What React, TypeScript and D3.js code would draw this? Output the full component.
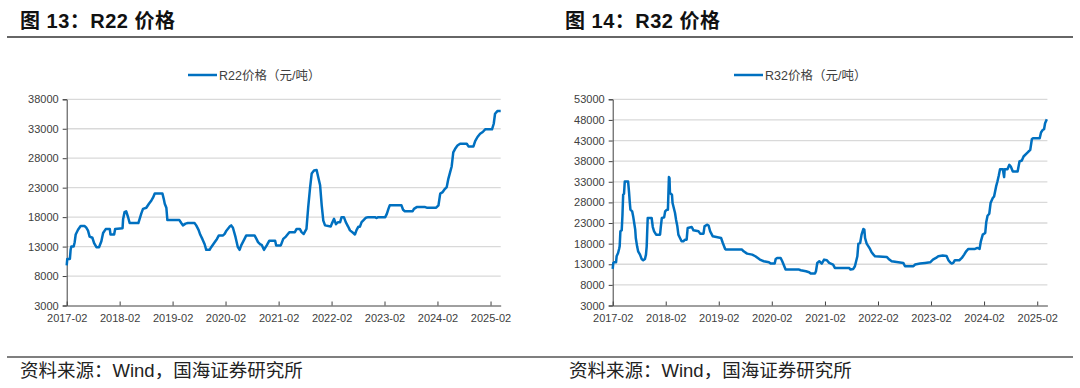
import React, { useEffect, useRef } from "react";
import * as d3 from "d3";

// R22 price (yuan/ton), change points
const r22Prices: [string, number][] = [
  ["2017-02-01", 9800], ["2017-02-05", 10900], ["2017-02-23", 10900], ["2017-02-28", 12450],
  ["2017-03-05", 13000], ["2017-03-21", 13000], ["2017-03-28", 13750], ["2017-04-04", 15050],
  ["2017-04-20", 15850], ["2017-05-08", 16480], ["2017-06-05", 16480], ["2017-06-16", 16200],
  ["2017-06-28", 15700], ["2017-07-09", 14700], ["2017-07-28", 14500], ["2017-08-09", 13600],
  ["2017-08-25", 12900], ["2017-09-12", 12900], ["2017-09-28", 13900], ["2017-10-10", 15300],
  ["2017-10-28", 15970], ["2017-11-25", 16000], ["2017-11-30", 15050], ["2017-12-25", 15050],
  ["2018-01-01", 16000], ["2018-02-21", 16130], ["2018-02-25", 17700], ["2018-03-07", 18850],
  ["2018-03-18", 19000], ["2018-03-30", 18100], ["2018-04-11", 17000], ["2018-06-10", 17000],
  ["2018-06-19", 17700], ["2018-06-30", 18600], ["2018-07-12", 19400], ["2018-08-04", 19600],
  ["2018-08-22", 20270], ["2018-09-08", 20840], ["2018-09-19", 21300], ["2018-10-01", 22000],
  ["2018-11-23", 22000], ["2018-12-02", 21100], ["2018-12-09", 20270], ["2018-12-20", 19600],
  ["2018-12-27", 17500], ["2019-03-20", 17500], ["2019-04-02", 17000], ["2019-04-13", 16600],
  ["2019-05-01", 16900], ["2019-05-17", 17000], ["2019-07-02", 17000], ["2019-07-14", 16600],
  ["2019-07-30", 15850], ["2019-08-11", 15000], ["2019-08-25", 14300], ["2019-09-10", 13400],
  ["2019-09-21", 12450], ["2019-10-14", 12450], ["2019-10-25", 12900], ["2019-11-18", 13750],
  ["2019-12-04", 14300], ["2019-12-17", 14900], ["2020-01-15", 14900], ["2020-01-26", 15150],
  ["2020-02-07", 15700], ["2020-03-01", 16400], ["2020-03-11", 16600], ["2020-03-23", 16200],
  ["2020-04-10", 14600], ["2020-04-26", 12900], ["2020-05-08", 12450], ["2020-05-19", 13200],
  ["2020-06-11", 14300], ["2020-06-23", 14900], ["2020-08-19", 14900], ["2020-09-01", 14300],
  ["2020-09-12", 13750], ["2020-09-26", 13400], ["2020-10-07", 13300], ["2020-10-23", 12450],
  ["2020-11-11", 13200], ["2020-11-29", 14000], ["2021-01-08", 14000], ["2021-01-15", 13200],
  ["2021-02-16", 13200], ["2021-03-05", 14300], ["2021-03-23", 14700], ["2021-04-16", 15450],
  ["2021-05-24", 15450], ["2021-06-05", 16000], ["2021-06-27", 16000], ["2021-07-09", 15450],
  ["2021-07-24", 15150], ["2021-08-12", 16000], ["2021-08-24", 19700], ["2021-09-06", 23050],
  ["2021-09-17", 25400], ["2021-10-03", 25900], ["2021-10-21", 26000], ["2021-11-02", 24700],
  ["2021-11-14", 23400], ["2021-11-25", 20000], ["2021-12-06", 17400], ["2021-12-18", 16600],
  ["2022-01-26", 16400], ["2022-02-03", 16900], ["2022-02-18", 17700], ["2022-03-03", 16800],
  ["2022-03-18", 17150], ["2022-04-01", 17150], ["2022-04-11", 18000], ["2022-04-27", 18000],
  ["2022-05-10", 17150], ["2022-05-26", 16400], ["2022-06-08", 15750], ["2022-07-01", 15300],
  ["2022-07-12", 15050], ["2022-07-23", 15800], ["2022-08-04", 16350], ["2022-08-15", 16350],
  ["2022-08-27", 17150], ["2022-09-08", 17450], ["2022-09-26", 17900], ["2022-10-12", 18000],
  ["2022-11-27", 18000], ["2022-12-09", 17850], ["2022-12-20", 18000], ["2023-02-06", 18000],
  ["2023-02-17", 18550], ["2023-02-28", 19400], ["2023-03-09", 20000], ["2023-05-29", 20000],
  ["2023-06-09", 19250], ["2023-06-21", 19000], ["2023-08-14", 19000], ["2023-08-23", 19400],
  ["2023-09-11", 19700], ["2023-11-08", 19700], ["2023-11-19", 19600], ["2024-01-23", 19600],
  ["2024-02-08", 20000], ["2024-02-20", 22000], ["2024-03-08", 22250], ["2024-03-24", 22800],
  ["2024-04-05", 23100], ["2024-04-16", 24500], ["2024-04-28", 25600], ["2024-05-09", 26600],
  ["2024-05-20", 29000], ["2024-06-02", 29600], ["2024-06-18", 30150], ["2024-07-06", 30450],
  ["2024-08-21", 30450], ["2024-09-02", 30000], ["2024-10-06", 30000], ["2024-10-18", 30900],
  ["2024-11-03", 31600], ["2024-11-21", 32150], ["2024-12-09", 32450], ["2024-12-26", 32900],
  ["2025-02-11", 32900], ["2025-02-23", 33850], ["2025-03-04", 35550], ["2025-03-20", 36000],
  ["2025-04-12", 36000],
];

// R32 price (yuan/ton)
const r32Prices: [string, number][] = [
  ["2017-02-01", 11900], ["2017-02-05", 13300], ["2017-02-10", 13480], ["2017-02-24", 13480],
  ["2017-02-28", 14940], ["2017-03-10", 15740], ["2017-03-17", 16700], ["2017-03-21", 17350],
  ["2017-03-26", 21000], ["2017-04-04", 21230], ["2017-04-09", 24770], ["2017-04-14", 29860],
  ["2017-04-20", 30100], ["2017-04-25", 33080], ["2017-05-18", 33080], ["2017-05-25", 30260],
  ["2017-05-29", 28240], ["2017-06-03", 26230], ["2017-06-15", 25830], ["2017-06-22", 24610],
  ["2017-06-29", 23000], ["2017-07-06", 21390], ["2017-07-10", 19370], ["2017-07-19", 17350],
  ["2017-07-26", 16150], ["2017-08-08", 15340], ["2017-08-19", 14290], ["2017-08-30", 13970],
  ["2017-09-11", 14290], ["2017-09-18", 15340], ["2017-09-23", 17350], ["2017-09-27", 21390],
  ["2017-09-30", 24210], ["2017-10-27", 24210], ["2017-11-04", 22030], ["2017-11-13", 20980],
  ["2017-11-27", 20180], ["2017-12-24", 20180], ["2017-12-29", 22030], ["2018-01-05", 24210],
  ["2018-01-21", 24370], ["2018-01-28", 25820], ["2018-02-09", 26230], ["2018-02-16", 26230],
  ["2018-02-23", 34130], ["2018-02-27", 33890], ["2018-03-02", 30260], ["2018-03-16", 29860],
  ["2018-03-20", 27840], ["2018-04-06", 25420], ["2018-04-13", 23810], ["2018-04-22", 22190],
  ["2018-04-29", 20180], ["2018-05-10", 19370], ["2018-05-21", 18560], ["2018-06-02", 18560],
  ["2018-06-14", 18970], ["2018-06-25", 18970], ["2018-07-02", 21790], ["2018-07-30", 22030],
  ["2018-08-11", 21230], ["2018-09-15", 20980], ["2018-09-26", 20420], ["2018-10-19", 20420],
  ["2018-10-26", 22190], ["2018-11-12", 22600], ["2018-11-23", 22400], ["2018-12-04", 20980],
  ["2018-12-22", 19770], ["2019-02-17", 19370], ["2019-03-01", 18160], ["2019-03-17", 16710],
  ["2019-03-24", 16550], ["2019-07-11", 16550], ["2019-07-22", 16150], ["2019-08-15", 15580],
  ["2019-09-19", 15340], ["2019-10-11", 14940], ["2019-11-11", 14130], ["2019-12-08", 13730],
  ["2020-01-12", 13480], ["2020-01-24", 13160], ["2020-02-21", 13160], ["2020-02-28", 14290],
  ["2020-03-09", 14530], ["2020-04-02", 14530], ["2020-04-13", 13730], ["2020-05-06", 11710],
  ["2020-08-07", 11710], ["2020-08-18", 11550], ["2020-09-23", 11310], ["2020-10-15", 11060],
  ["2020-10-26", 10740], ["2020-11-24", 10740], ["2020-12-01", 11310], ["2020-12-10", 13320],
  ["2020-12-24", 13730], ["2021-01-10", 13160], ["2021-01-26", 14130], ["2021-02-14", 13970],
  ["2021-03-02", 13320], ["2021-03-29", 12920], ["2021-04-10", 12110], ["2021-07-17", 12110],
  ["2021-07-27", 11710], ["2021-08-15", 11870], ["2021-08-26", 12520], ["2021-09-12", 14940],
  ["2021-09-19", 18000], ["2021-10-01", 18160], ["2021-10-11", 20180], ["2021-10-23", 21550],
  ["2021-10-30", 21400], ["2021-11-04", 19370], ["2021-11-15", 18000], ["2021-11-27", 17350],
  ["2021-12-08", 16710], ["2021-12-19", 15900], ["2022-01-01", 15340], ["2022-01-12", 14940],
  ["2022-04-02", 14770], ["2022-04-20", 14130], ["2022-05-06", 13730], ["2022-07-25", 13320],
  ["2022-08-06", 12520], ["2022-10-03", 12520], ["2022-10-14", 12920], ["2022-11-18", 13160],
  ["2022-12-22", 13320], ["2023-01-26", 13480], ["2023-02-14", 14130], ["2023-03-07", 14530],
  ["2023-03-23", 14940], ["2023-04-22", 15100], ["2023-05-19", 15000], ["2023-06-01", 13970],
  ["2023-06-12", 13480], ["2023-06-23", 13160], ["2023-07-04", 13320], ["2023-07-15", 13970],
  ["2023-08-15", 13970], ["2023-09-01", 14530], ["2023-09-17", 15340], ["2023-10-01", 16150],
  ["2023-10-16", 16710], ["2023-12-01", 16710], ["2023-12-17", 16950], ["2024-01-01", 16710],
  ["2024-01-10", 18560], ["2024-01-23", 20180], ["2024-02-09", 20580], ["2024-02-16", 23160],
  ["2024-02-25", 24770], ["2024-03-08", 25260], ["2024-03-17", 27840], ["2024-04-01", 29050],
  ["2024-04-10", 29450], ["2024-04-24", 31870], ["2024-05-03", 33080], ["2024-05-12", 34450],
  ["2024-05-21", 36060], ["2024-06-09", 36060], ["2024-06-18", 34130], ["2024-06-22", 36060],
  ["2024-07-11", 36060], ["2024-07-24", 37110], ["2024-08-03", 36710], ["2024-08-17", 35500],
  ["2024-09-19", 35500], ["2024-10-02", 37920], ["2024-10-18", 38160], ["2024-10-30", 39130],
  ["2024-11-17", 39770], ["2024-12-03", 40340], ["2024-12-15", 40740], ["2024-12-26", 43320],
  ["2025-01-03", 43570], ["2025-02-18", 43570], ["2025-02-27", 44940], ["2025-03-11", 45580],
  ["2025-03-20", 45740], ["2025-03-27", 47190], ["2025-04-08", 48160],
];

const r22Ticks = [3000, 8000, 13000, 18000, 23000, 28000, 33000, 38000];
const r32Ticks = [3000, 8000, 13000, 18000, 23000, 28000, 33000, 38000, 43000, 48000, 53000];
const xTickDates = [
  "2017-02-01", "2018-02-01", "2019-02-01", "2020-02-01", "2021-02-01",
  "2022-02-01", "2023-02-01", "2024-02-01", "2025-02-01",
];
const xDomain = ["2017-02-01", "2025-04-12"];

const LATIN = "'Liberation Sans', Arial, 'Noto Sans CJK SC', sans-serif";
const CJK = "'Liberation Sans', 'Noto Sans CJK SC', sans-serif";

const PriceChart = (props) => {
  const { data, yTicks, x0, x1, title, titleX, legend, legendX } = props;
  const ref = useRef(null);
  const top = 99.3;
  const bottom = 305.5;

  useEffect(() => {
    const g = d3.select(ref.current);
    const parse = d3.timeParse("%Y-%m-%d");

    const xScale = d3.scaleTime().domain(xDomain.map(parse)).range([x0, x1]);
    const yScale = d3
      .scaleLinear()
      .domain([yTicks[0], yTicks[yTicks.length - 1]])
      .range([bottom, top]);

    // title
    g.append("text")
      .attr("x", titleX)
      .attr("y", 28)
      .attr("font-family", CJK)
      .attr("font-size", 20)
      .attr("font-weight", "bold")
      .attr("letter-spacing", 0.5)
      .attr("fill", "#111")
      .text(title);

    // legend
    g.append("line")
      .attr("x1", legendX)
      .attr("x2", legendX + 29)
      .attr("y1", 75)
      .attr("y2", 75)
      .attr("stroke", "#0070C0")
      .attr("stroke-width", 2.5);
    g.append("text")
      .attr("x", legendX + 31)
      .attr("y", 79.5)
      .attr("font-family", CJK)
      .attr("font-size", 12.5)
      .attr("fill", "#404040")
      .text(legend);

    // gridlines
    g.append("g")
      .selectAll("line")
      .data(yTicks.slice(1))
      .enter()
      .append("line")
      .attr("x1", x0)
      .attr("x2", x1)
      .attr("y1", (d) => yScale(d))
      .attr("y2", (d) => yScale(d))
      .attr("stroke", "#d9d9d9")
      .attr("stroke-width", 1.3);

    // y axis
    const yAxis = g
      .append("g")
      .attr("transform", `translate(${x0},0)`)
      .call(d3.axisLeft(yScale).tickValues(yTicks).tickSize(4).tickPadding(4).tickFormat(d3.format("d")));
    yAxis.select(".domain").attr("stroke", "#404040");
    yAxis.selectAll(".tick line").attr("stroke", "#404040");
    yAxis
      .selectAll("text")
      .attr("font-family", LATIN)
      .attr("font-size", 11)
      .attr("fill", "#404040");

    // x axis, ticks pointing up into the plot
    const xAxis = g
      .append("g")
      .attr("transform", `translate(0,${bottom})`)
      .call(
        d3
          .axisBottom(xScale)
          .tickValues(xTickDates.map(parse))
          .tickSizeInner(-4)
          .tickSizeOuter(0)
          .tickPadding(9)
          .tickFormat(d3.timeFormat("%Y-%m"))
      );
    xAxis.select(".domain").attr("stroke", "#404040");
    xAxis.selectAll(".tick line").attr("stroke", "#404040");
    xAxis
      .selectAll("text")
      .attr("font-family", LATIN)
      .attr("font-size", 11)
      .attr("fill", "#404040");

    // price line
    const line = d3
      .line()
      .x((d) => xScale(parse(d[0])))
      .y((d) => yScale(d[1]));

    g.append("path")
      .datum(data)
      .attr("fill", "none")
      .attr("stroke", "#0070C0")
      .attr("stroke-width", 2.5)
      .attr("stroke-linejoin", "round")
      .attr("d", line);

    return () => {
      g.selectAll("*").remove();
    };
  }, []);

  return <g ref={ref} />;
};

export default function App() {
  return (
    <svg
      width={1080}
      height={388}
      style={{ position: "absolute", left: 0, top: 0, background: "#fff" }}
    >
      <rect x={0} y={0} width={1080} height={388} fill="#fff" />
      <PriceChart
        data={r22Prices}
        yTicks={r22Ticks}
        x0={66.7}
        x1={500.7}
        title="图 13：R22 价格"
        titleX={20}
        legend="R22价格（元/吨）"
        legendX={188}
      />
      <PriceChart
        data={r32Prices}
        yTicks={r32Ticks}
        x0={612.7}
        x1={1047.4}
        title="图 14：R32 价格"
        titleX={565}
        legend="R32价格（元/吨）"
        legendX={734}
      />
      <line x1={7} x2={1073} y1={37} y2={37} stroke="#333" strokeWidth={1.5} />
      <line x1={7} x2={1073} y1={357} y2={357} stroke="#555" strokeWidth={1.5} />
      <text x={20} y={377} fontFamily={CJK} fontSize={18.5} fill="#222">
        资料来源：Wind，国海证券研究所
      </text>
      <text x={569} y={377} fontFamily={CJK} fontSize={18.5} fill="#222">
        资料来源：Wind，国海证券研究所
      </text>
    </svg>
  );
}
